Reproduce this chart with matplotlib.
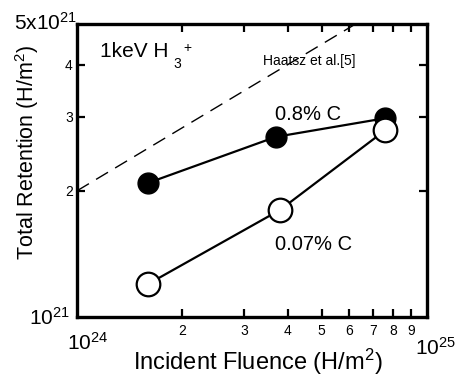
import matplotlib
matplotlib.use("Agg")
import matplotlib.pyplot as plt
from matplotlib.ticker import NullFormatter, FixedLocator

plt.rcParams['font.family'] = ['Liberation Sans', 'DejaVu Sans']
plt.rcParams['mathtext.fontset'] = 'custom'
plt.rcParams['mathtext.rm'] = 'Liberation Sans'
plt.rcParams['mathtext.it'] = 'Liberation Sans'

fluence_08 = [1.6e24, 3.7e24, 7.6e24]
retention_08 = [2.09e21, 2.69e21, 2.98e21]
fluence_007 = [1.6e24, 3.8e24, 7.6e24]
retention_007 = [1.2e21, 1.8e21, 2.79e21]
haatsz_fluence = [1.0e24, 8.0e24]
haatsz_retention = [2.0e21, 5.657e21]
x_minor = [2, 3, 4, 5, 6, 7, 8, 9]
y_minor = [2, 3, 4]

W, H = 461, 376
fig = plt.figure(figsize=(W / 100, H / 100), dpi=100)
ax = fig.add_axes([77 / W, 1 - 317 / H, 350 / W, 293 / H])
ax.set_xscale('log')
ax.set_yscale('log')
ax.set_xlim(1e24, 1e25)
ax.set_ylim(1e21, 5e21)

ax.plot(haatsz_fluence, haatsz_retention, color='black', lw=1.0, ls=(0, (10, 6)))
ax.plot(fluence_08, retention_08, color='black', lw=1.6, marker='o', ms=15,
        mfc='black', mec='black', zorder=3)
ax.plot(fluence_007, retention_007, color='black', lw=1.6, marker='o', ms=17,
        mfc='white', mec='black', mew=1.6, zorder=4)

for s in ax.spines.values():
    s.set_linewidth(2.4)

ax.xaxis.set_major_locator(FixedLocator([1e24, 1e25]))
ax.yaxis.set_major_locator(FixedLocator([1e21]))
ax.xaxis.set_major_formatter(NullFormatter())
ax.yaxis.set_major_formatter(NullFormatter())
ax.set_xticks([v * 1e24 for v in x_minor], [str(v) for v in x_minor], minor=True)
ax.set_yticks([v * 1e21 for v in y_minor], [str(v) for v in y_minor], minor=True)
ax.tick_params(which='both', direction='in', top=True, right=True, width=1.6,
               labelsize=10)
ax.tick_params(axis='x', which='minor', pad=5)
ax.tick_params(axis='y', which='minor', pad=3)
ax.tick_params(which='major', length=0)
ax.tick_params(which='minor', length=6)

ax.text(0.0, 0.98, r'5x$10^{21}$', transform=ax.transAxes, ha='right', va='baseline', fontsize=15)
ax.text(-0.02, -0.027, r'$10^{21}$', transform=ax.transAxes, ha='right', va='baseline', fontsize=15)
ax.text(-0.029, -0.113, r'$10^{24}$', transform=ax.transAxes, ha='left', va='baseline', fontsize=15)
ax.text(0.966, -0.13, r'$10^{25}$', transform=ax.transAxes, ha='left', va='baseline', fontsize=15)

fig.text(258 / W, 1 - 362 / H, r'Incident Fluence (H/m$^2$)', ha='center', va='center', fontsize=17)
fig.text(27 / W, 1 - 152 / H, r'Total Retention (H/m$^2$)', ha='center', va='center',
         rotation=90, fontsize=15.5)

ax.text(0.066, 0.887, '1keV H', transform=ax.transAxes, ha='left', va='baseline', fontsize=15)
ax.text((173 - 77) / 350, (317 - 68) / 293, '3', transform=ax.transAxes, ha='left',
        va='baseline', fontsize=10)
ax.text((183 - 77) / 350, (317 - 52) / 293, '+', transform=ax.transAxes, ha='left',
        va='baseline', fontsize=10)
ax.text(0.53, 0.86, 'Haatsz et al.[5]', transform=ax.transAxes, ha='left', va='baseline', fontsize=10)
ax.text(0.566, 0.672, '0.8% C', transform=ax.transAxes, ha='left', va='baseline', fontsize=14.5)
ax.text(0.566, 0.229, '0.07% C', transform=ax.transAxes, ha='left', va='baseline', fontsize=14.5)

fig.savefig('out.png', dpi=100)
